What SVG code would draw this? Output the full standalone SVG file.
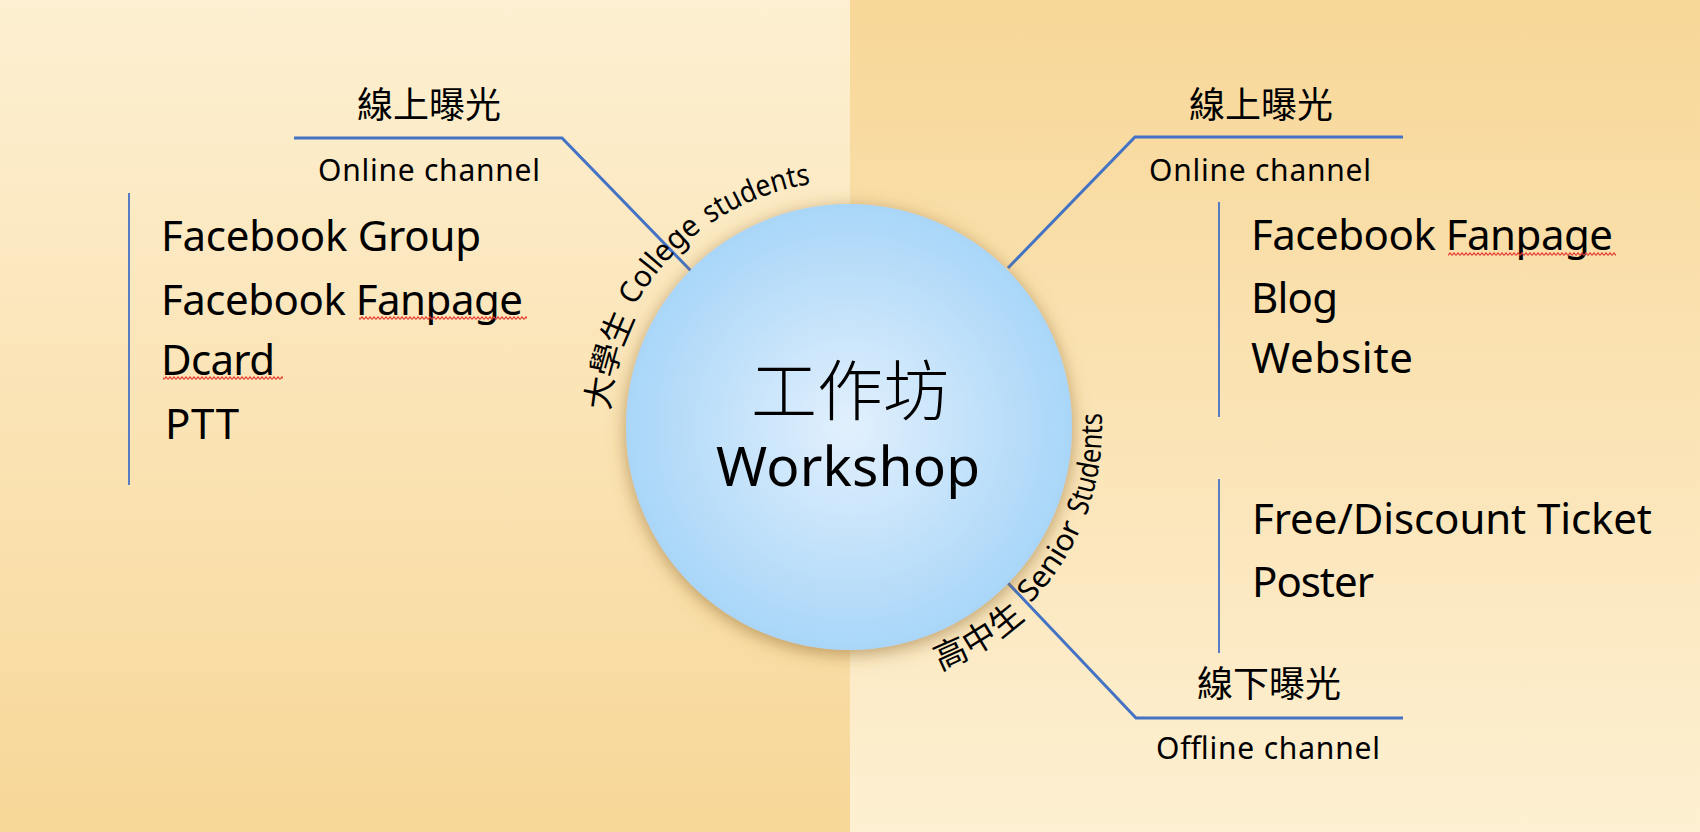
<svg xmlns="http://www.w3.org/2000/svg" width="1700" height="832" viewBox="0 0 1700 832">
  <defs>
    <linearGradient id="bgLeft" x1="0" y1="0" x2="0" y2="1">
      <stop offset="0" stop-color="#fdf0d2"/>
      <stop offset="1" stop-color="#f8d798"/>
    </linearGradient>
    <linearGradient id="bgRight" x1="0" y1="0" x2="0" y2="1">
      <stop offset="0" stop-color="#f8d798"/>
      <stop offset="1" stop-color="#fdf0d2"/>
    </linearGradient>
    <radialGradient id="circFill" cx="0.5" cy="0.5" r="0.5">
      <stop offset="0" stop-color="#e2f0fd"/>
      <stop offset="1" stop-color="#a9d6f8"/>
    </radialGradient>
    <filter id="shadow" x="-20%" y="-20%" width="140%" height="140%">
      <feDropShadow dx="0" dy="4" stdDeviation="9" flood-color="#8f6a2c" flood-opacity="0.6"/>
    </filter>
    <pattern id="squig" width="4" height="4" patternUnits="userSpaceOnUse">
      <path d="M0,3.5 L2,0.8 L4,3.5" fill="none" stroke="#e5392f" stroke-width="1.1"/>
    </pattern>
    <path id="arcUL" d="M 603,427 A 246 246 0 0 1 849,181"/>
    <path id="arcLR" d="M 914.5,671.4 A 253 253 0 0 0 1093.4,361.5"/>
  </defs>
  <style>
    .conn { fill: none; stroke: #4472c4; stroke-width: 3; }
    .bar { fill: none; stroke: #4472c4; stroke-width: 1.8; }
    .cjk { font-family: "Noto Sans CJK TC", "Noto Sans CJK SC", sans-serif; fill: #000; }
    .lat { font-family: "Noto Sans", "Open Sans", sans-serif; fill: #000; }
    .head { font-size: 36px; text-anchor: middle; }
    .sub { font-size: 30px; text-anchor: middle; }
    .item { font-size: 42px; }
    .arcl { font-size: 30px; }
    .arcc { font-size: 33px; }
  </style>

  <g id="background">
    <rect x="0" y="0" width="850" height="832" fill="url(#bgLeft)"/>
    <rect x="850" y="0" width="850" height="832" fill="url(#bgRight)"/>
  </g>

  <g id="connectors">
    <polyline class="conn" points="294,138 562,138 691,271"/>
    <polyline class="conn" points="1403,137 1135,137 1008,268"/>
    <polyline class="conn" points="1008,583 1136,718 1403,718"/>
    <line class="bar" x1="129" y1="193" x2="129" y2="485"/>
    <line class="bar" x1="1219" y1="202" x2="1219" y2="417"/>
    <line class="bar" x1="1219" y1="479" x2="1219" y2="653"/>
  </g>

  <g id="workshop">
    <circle cx="849" cy="427" r="223" fill="url(#circFill)" filter="url(#shadow)"/>
    <text class="cjk" x="850" y="415" font-size="66" font-weight="300" text-anchor="middle">工作坊</text>
    <text class="lat" x="848" y="486" font-size="55" text-anchor="middle" textLength="264">Workshop</text>
  </g>

  <g id="college-label">
    <text class="cjk arcc" dy="6"><textPath href="#arcUL" startOffset="17">大學生</textPath></text>
    <text class="lat arcl"><textPath href="#arcUL" startOffset="126" textLength="103" lengthAdjust="spacingAndGlyphs">College</textPath></text>
    <text class="lat arcl"><textPath href="#arcUL" startOffset="239" textLength="109" lengthAdjust="spacingAndGlyphs">students</textPath></text>
  </g>

  <g id="senior-label">
    <text class="cjk arcc" dy="7"><textPath href="#arcLR" startOffset="24">高中生</textPath></text>
    <text class="lat arcl"><textPath href="#arcLR" startOffset="136" textLength="93" lengthAdjust="spacingAndGlyphs">Senior</textPath></text>
    <text class="lat arcl"><textPath href="#arcLR" startOffset="240" textLength="105" lengthAdjust="spacingAndGlyphs">Students</textPath></text>
  </g>

  <g id="college-online">
    <text class="cjk head" x="429" y="118">線上曝光</text>
    <text class="lat sub" x="429" y="181" textLength="222">Online channel</text>
    <text class="lat item" x="161" y="251" textLength="320">Facebook Group</text>
    <text class="lat item" x="161" y="315" textLength="362">Facebook Fanpage</text>
    <text class="lat item" x="161" y="375" textLength="114">Dcard</text>
    <text class="lat item" x="165" y="439" textLength="74">PTT</text>
    <rect x="359" y="316" width="168" height="4" fill="url(#squig)"/>
    <rect x="163" y="376" width="120" height="4" fill="url(#squig)"/>
  </g>

  <g id="senior-online">
    <text class="cjk head" x="1261" y="118">線上曝光</text>
    <text class="lat sub" x="1260" y="181" textLength="222">Online channel</text>
    <text class="lat item" x="1251" y="250" textLength="362">Facebook Fanpage</text>
    <text class="lat item" x="1251" y="313" textLength="87">Blog</text>
    <text class="lat item" x="1251" y="373" textLength="162">Website</text>
    <rect x="1448" y="252" width="168" height="4" fill="url(#squig)"/>
  </g>

  <g id="senior-offline">
    <text class="lat item" x="1252" y="534" textLength="400">Free/Discount Ticket</text>
    <text class="lat item" x="1252" y="597" textLength="122">Poster</text>
    <text class="cjk head" x="1269" y="697">線下曝光</text>
    <text class="lat sub" x="1268" y="759" textLength="224">Offline channel</text>
  </g>
</svg>
